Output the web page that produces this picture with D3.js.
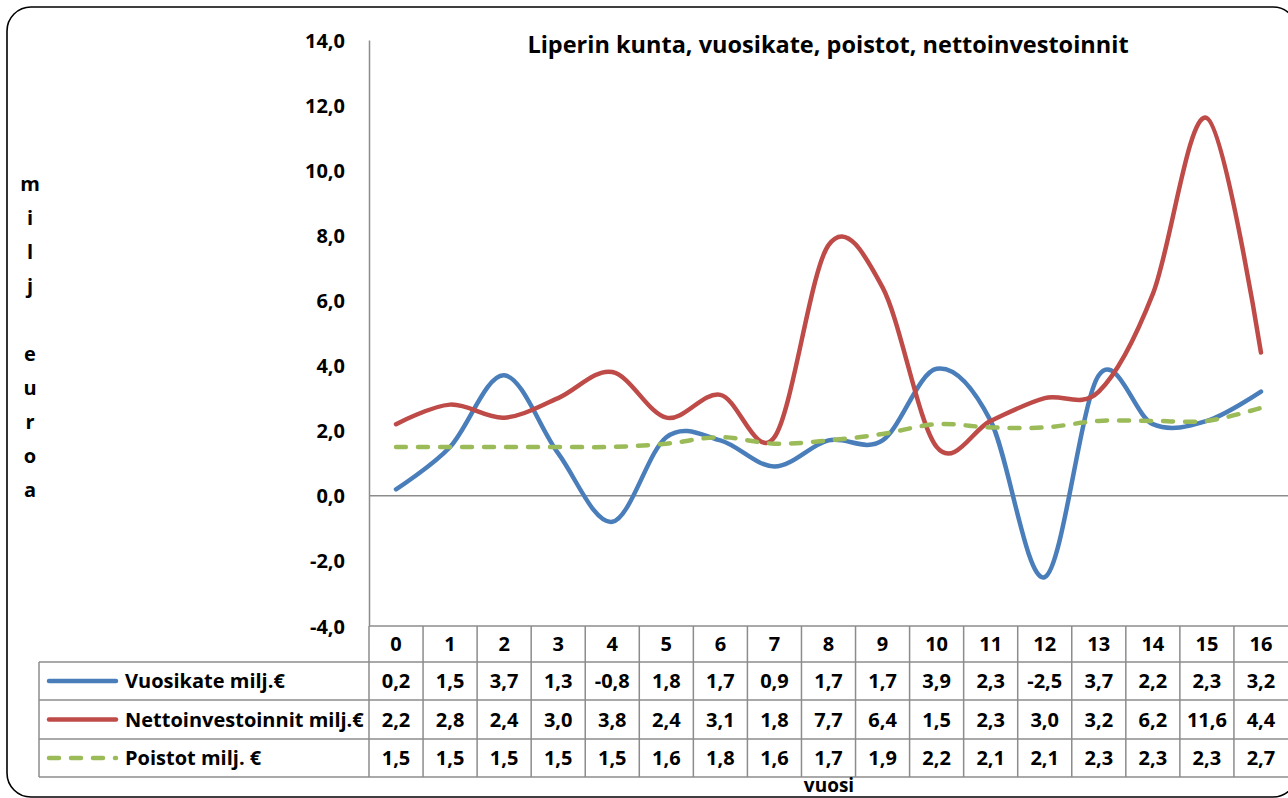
<!DOCTYPE html>
<html>
<head>
<meta charset="utf-8">
<script src="https://cdn.jsdelivr.net/npm/d3@7"></script>
<style>
  body { margin: 0; background: #fff; }
  svg text { font-family: "Open Sans", Lato, sans-serif; font-weight: bold; fill: #000; }
</style>
</head>
<body>
<div class="chart"></div>
<script>
'use strict';
(function() {
  // Data
  var years = ['0','1','2','3','4','5','6','7','8','9','10','11','12','13','14','15','16'];
  var vuosikate = [0.2, 1.5, 3.7, 1.3, -0.8, 1.8, 1.7, 0.9, 1.7, 1.7, 3.9, 2.3, -2.5, 3.7, 2.2, 2.3, 3.2];
  var netto = [2.2, 2.8, 2.4, 3.0, 3.8, 2.4, 3.1, 1.8, 7.7, 6.4, 1.5, 2.3, 3.0, 3.2, 6.2, 11.6, 4.4];
  var poistot = [1.5, 1.5, 1.5, 1.5, 1.5, 1.6, 1.8, 1.6, 1.7, 1.9, 2.2, 2.1, 2.1, 2.3, 2.3, 2.3, 2.7];
  var yTicks = [-4, -2, 0, 2, 4, 6, 8, 10, 12, 14];
  var seriesNames = ['Vuosikate milj.€', 'Nettoinvestoinnit milj.€', 'Poistot milj. €'];

  var series = [
    {name: seriesNames[0], values: vuosikate, color: '#4a7ebb', dash: null},
    {name: seriesNames[1], values: netto, color: '#be4b48', dash: null},
    {name: seriesNames[2], values: poistot, color: '#9bbb59', dash: '10,12'}
  ];

  // Sizes
  var w = 1288;
  var h = 798;
  var plotLeft = 369;
  var plotRight = 1288;
  var plotTop = 40;
  var plotBottom = 626;
  var tableLeft = 39;
  var rowH = [36, 38, 39, 38];
  var gridColor = '#8c8c8c';
  var fontSize = '20px';

  var fmt = function(v) { return d3.format('.1f')(v).replace('.', ',').replace('−', '-'); };

  var svg = d3.select('.chart')
    .append('svg')
    .attr('width', w)
    .attr('height', h);

  // Outer frame
  svg.append('rect')
    .attr('x', 7).attr('y', 7)
    .attr('width', 1290).attr('height', 790)
    .attr('rx', 24)
    .attr('fill', 'none')
    .attr('stroke', '#000')
    .attr('stroke-width', 1.6);

  // Scales
  var yScale = d3.scaleLinear()
    .domain([-4, 14])
    .range([plotBottom, plotTop]);

  var xBand = d3.scaleBand()
    .domain(years)
    .range([plotLeft, plotRight]);

  var xPos = function(i) { return xBand(years[i]) + xBand.bandwidth() / 2; };

  // Y axis
  var yAxis = d3.axisLeft(yScale)
    .tickValues(yTicks)
    .tickSize(0)
    .tickPadding(24)
    .tickFormat(fmt);

  var gy = svg.append('g')
    .attr('transform', 'translate(' + plotLeft + ',0)')
    .call(yAxis);
  gy.select('.domain').attr('stroke', gridColor).attr('stroke-width', 1.5);
  gy.selectAll('text')
    .style('font-size', fontSize)
    .attr('dy', '0.35em');

  // Zero line
  svg.append('line')
    .attr('x1', plotLeft).attr('x2', plotRight)
    .attr('y1', yScale(0)).attr('y2', yScale(0))
    .attr('stroke', gridColor)
    .attr('stroke-width', 1.5);

  // Title
  svg.append('text')
    .attr('x', 828).attr('y', 53)
    .attr('text-anchor', 'middle')
    .style('font-size', '23.5px')
    .text('Liperin kunta, vuosikate, poistot, nettoinvestoinnit');

  // Y label, one letter per line
  var yLabel = ['m', 'i', 'l', 'j', '', 'e', 'u', 'r', 'o', 'a'];
  svg.append('g')
    .selectAll('text')
    .data(yLabel)
    .enter()
    .append('text')
    .attr('x', 30)
    .attr('y', function(d, i) { return 191 + i * 34; })
    .attr('text-anchor', 'middle')
    .style('font-size', fontSize)
    .text(function(d) { return d; });

  // Lines
  var line = d3.line()
    .x(function(d, i) { return xPos(i); })
    .y(function(d) { return yScale(d); })
    .curve(d3.curveCatmullRom.alpha(0));

  svg.append('g')
    .selectAll('path')
    .data(series)
    .enter()
    .append('path')
    .attr('d', function(d) { return line(d.values); })
    .attr('fill', 'none')
    .attr('stroke', function(d) { return d.color; })
    .attr('stroke-width', 4.5)
    .attr('stroke-linecap', 'round')
    .attr('stroke-dasharray', function(d) { return d.dash; });

  // Data table
  var table = svg.append('g').attr('class', 'table');
  var rowY = [plotBottom];
  for (var r = 0; r < rowH.length; r++) rowY.push(rowY[r] + rowH[r]);

  // horizontal lines
  table.selectAll('line.h')
    .data(rowY)
    .enter()
    .append('line')
    .attr('x1', function(d, i) { return i === 0 ? plotLeft : tableLeft; })
    .attr('x2', plotRight)
    .attr('y1', function(d) { return d; })
    .attr('y2', function(d) { return d; })
    .attr('stroke', gridColor)
    .attr('stroke-width', 1.5);

  // vertical lines
  var colX = years.map(function(d) { return xBand(d); });
  table.selectAll('line.v')
    .data(colX)
    .enter()
    .append('line')
    .attr('x1', function(d) { return d; })
    .attr('x2', function(d) { return d; })
    .attr('y1', rowY[0])
    .attr('y2', rowY[rowY.length - 1])
    .attr('stroke', gridColor)
    .attr('stroke-width', 1.5);

  table.append('line')
    .attr('x1', tableLeft).attr('x2', tableLeft)
    .attr('y1', rowY[1]).attr('y2', rowY[rowY.length - 1])
    .attr('stroke', gridColor)
    .attr('stroke-width', 1.5);

  // header
  table.selectAll('text.head')
    .data(years)
    .enter()
    .append('text')
    .attr('x', function(d, i) { return xPos(i); })
    .attr('y', (rowY[0] + rowY[1]) / 2)
    .attr('dy', '0.35em')
    .attr('text-anchor', 'middle')
    .style('font-size', fontSize)
    .text(function(d) { return d; });

  // rows
  series.forEach(function(s, si) {
    var cy = (rowY[si + 1] + rowY[si + 2]) / 2;
    table.append('line')
      .attr('x1', 49).attr('x2', 116)
      .attr('y1', cy).attr('y2', cy)
      .attr('stroke', s.color)
      .attr('stroke-width', 4.5)
      .attr('stroke-linecap', 'round')
      .attr('stroke-dasharray', s.dash);
    table.append('text')
      .attr('x', 125).attr('y', cy)
      .attr('dy', '0.35em')
      .style('font-size', fontSize)
      .text(s.name);
    table.selectAll('text.v' + si)
      .data(s.values)
      .enter()
      .append('text')
      .attr('x', function(d, i) { return xPos(i); })
      .attr('y', cy)
      .attr('dy', '0.35em')
      .attr('text-anchor', 'middle')
      .style('font-size', fontSize)
      .text(function(d) { return fmt(d); });
  });

  // X title
  svg.append('text')
    .attr('x', 829).attr('y', 792)
    .attr('text-anchor', 'middle')
    .style('font-size', '19px')
    .text('vuosi');
})();
</script>
</body>
</html>
